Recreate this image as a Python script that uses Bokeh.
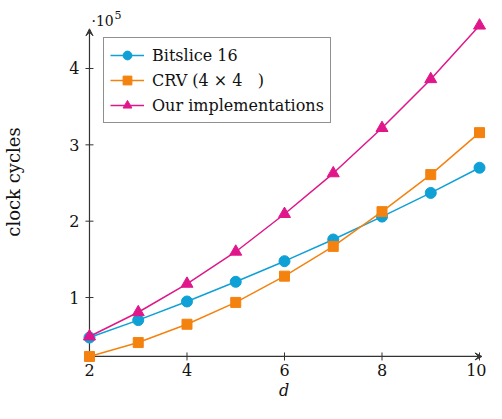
import numpy as np
from bokeh.plotting import figure
from bokeh.models import Range1d, FixedTicker, Label, Arrow, VeeHead
from bokeh.embed import file_html
from bokeh.resources import INLINE

# ---------------- data ----------------
d = [2, 3, 4, 5, 6, 7, 8, 9, 10]
bitslice16 = [47600, 70400, 94800, 120600, 147600, 176000, 206000, 237000, 270000]
crv = [22800, 41000, 65000, 93600, 128000, 167000, 212500, 261000, 316000]
ours = [49000, 80700, 118000, 160000, 209400, 262700, 322000, 386000, 456200]
series_names = ["Bitslice 16", "CRV (4 \u00d7 4\u00a0\u00a0\u00a0)", "Our implementations"]
x_ticks = [2, 4, 6, 8, 10]
y_ticks = [1, 2, 3, 4]
SCALE = 1e5

# ---------------- style ----------------
FONT = '"DejaVu Serif", serif'
colors = ["#0fa0d6", "#f4820f", "#e0178b"]
markers = ["circle", "square", "triangle"]
sizes = [11, 10, 12]
AXIS_COLOR = "#333333"

X_MIN = min(d)
Y_MIN = min(crv) / SCALE
X_AXIS_END = 10.05
Y_AXIS_END = 4.52
EXP_Y = 4.62

p = figure(width=486, height=403, output_backend="svg", toolbar_location=None,
           x_range=Range1d(1.8363, 10.1432), y_range=Range1d(0.1358, 4.8907),
           min_border_left=80, min_border_right=0, min_border_top=0, min_border_bottom=40,
           background_fill_color="white", border_fill_color="white")
p.grid.visible = False
p.outline_line_color = None

p.xaxis.ticker = FixedTicker(ticks=x_ticks)
p.yaxis.ticker = FixedTicker(ticks=y_ticks)
for ax in (p.xaxis[0], p.yaxis[0]):
    ax.axis_line_color = None
    ax.major_tick_line_color = None
    ax.minor_tick_line_color = None
    ax.major_tick_out = 0
    ax.major_tick_in = 0
    ax.major_label_text_font = FONT
    ax.major_label_text_font_size = "16px"
    ax.major_label_text_color = "#111111"
    ax.axis_label_text_font = FONT
    ax.axis_label_text_color = "#111111"
p.xaxis.axis_label = "d"
p.xaxis.axis_label_text_font_style = "italic"
p.xaxis.axis_label_text_font_size = "16px"
p.yaxis.axis_label = "clock cycles"
p.yaxis.axis_label_text_font_style = "normal"
p.yaxis.axis_label_text_font_size = "18px"
p.yaxis.major_label_standoff = 2
p.yaxis.axis_label_standoff = 42
p.xaxis.major_label_standoff = 0
p.xaxis.axis_label_standoff = 2

# axis lines with arrows
head_x = VeeHead(size=7, fill_color=AXIS_COLOR, line_color=AXIS_COLOR, line_width=1)
head_y = VeeHead(size=7, fill_color=AXIS_COLOR, line_color=AXIS_COLOR, line_width=1)
p.add_layout(Arrow(end=head_x, x_start=X_MIN, y_start=Y_MIN, x_end=X_AXIS_END, y_end=Y_MIN,
                   line_color=AXIS_COLOR, line_width=1.2, level="underlay"))
p.add_layout(Arrow(end=head_y, x_start=X_MIN, y_start=Y_MIN, x_end=X_MIN, y_end=Y_AXIS_END,
                   line_color=AXIS_COLOR, line_width=1.2, level="underlay"))

# tick marks
p.scatter(x=[X_MIN] * len(y_ticks), y=y_ticks, marker="dash", size=8,
          line_color=AXIS_COLOR, line_width=1, level="underlay")
p.scatter(x=x_ticks, y=[Y_MIN] * len(x_ticks), marker="dash", angle=np.pi / 2, size=8,
          line_color=AXIS_COLOR, line_width=1, level="underlay")

# series
for vals, name, c, m, s in zip([bitslice16, crv, ours], series_names, colors, markers, sizes):
    y = [v / SCALE for v in vals]
    p.line(d, y, line_color=c, line_width=1.5, legend_label=name)
    p.scatter(d, y, marker=m, size=s, fill_color=c, line_color=c, legend_label=name)

# exponent label
p.add_layout(Label(x=X_MIN, y=EXP_Y, x_offset=2, text="\u00b710", text_font=FONT,
                   text_font_size="14px", text_baseline="alphabetic", text_color="#111111"))
p.add_layout(Label(x=X_MIN, y=EXP_Y, x_offset=25, y_offset=6, text="5", text_font=FONT,
                   text_font_size="11px", text_baseline="alphabetic", text_color="#111111"))

leg = p.legend[0]
leg.location = (22, 240)
leg.margin = 0
leg.padding = 6
leg.spacing = 3
leg.glyph_width = 34
leg.glyph_height = 22
leg.label_height = 20
leg.label_standoff = 8
leg.label_text_font = FONT
leg.label_text_font_size = "16px"
leg.label_text_color = "#111111"
leg.border_line_color = "#222222"
leg.border_line_width = 1
leg.background_fill_alpha = 1.0

open("out.html", "w").write(file_html(p, INLINE))
